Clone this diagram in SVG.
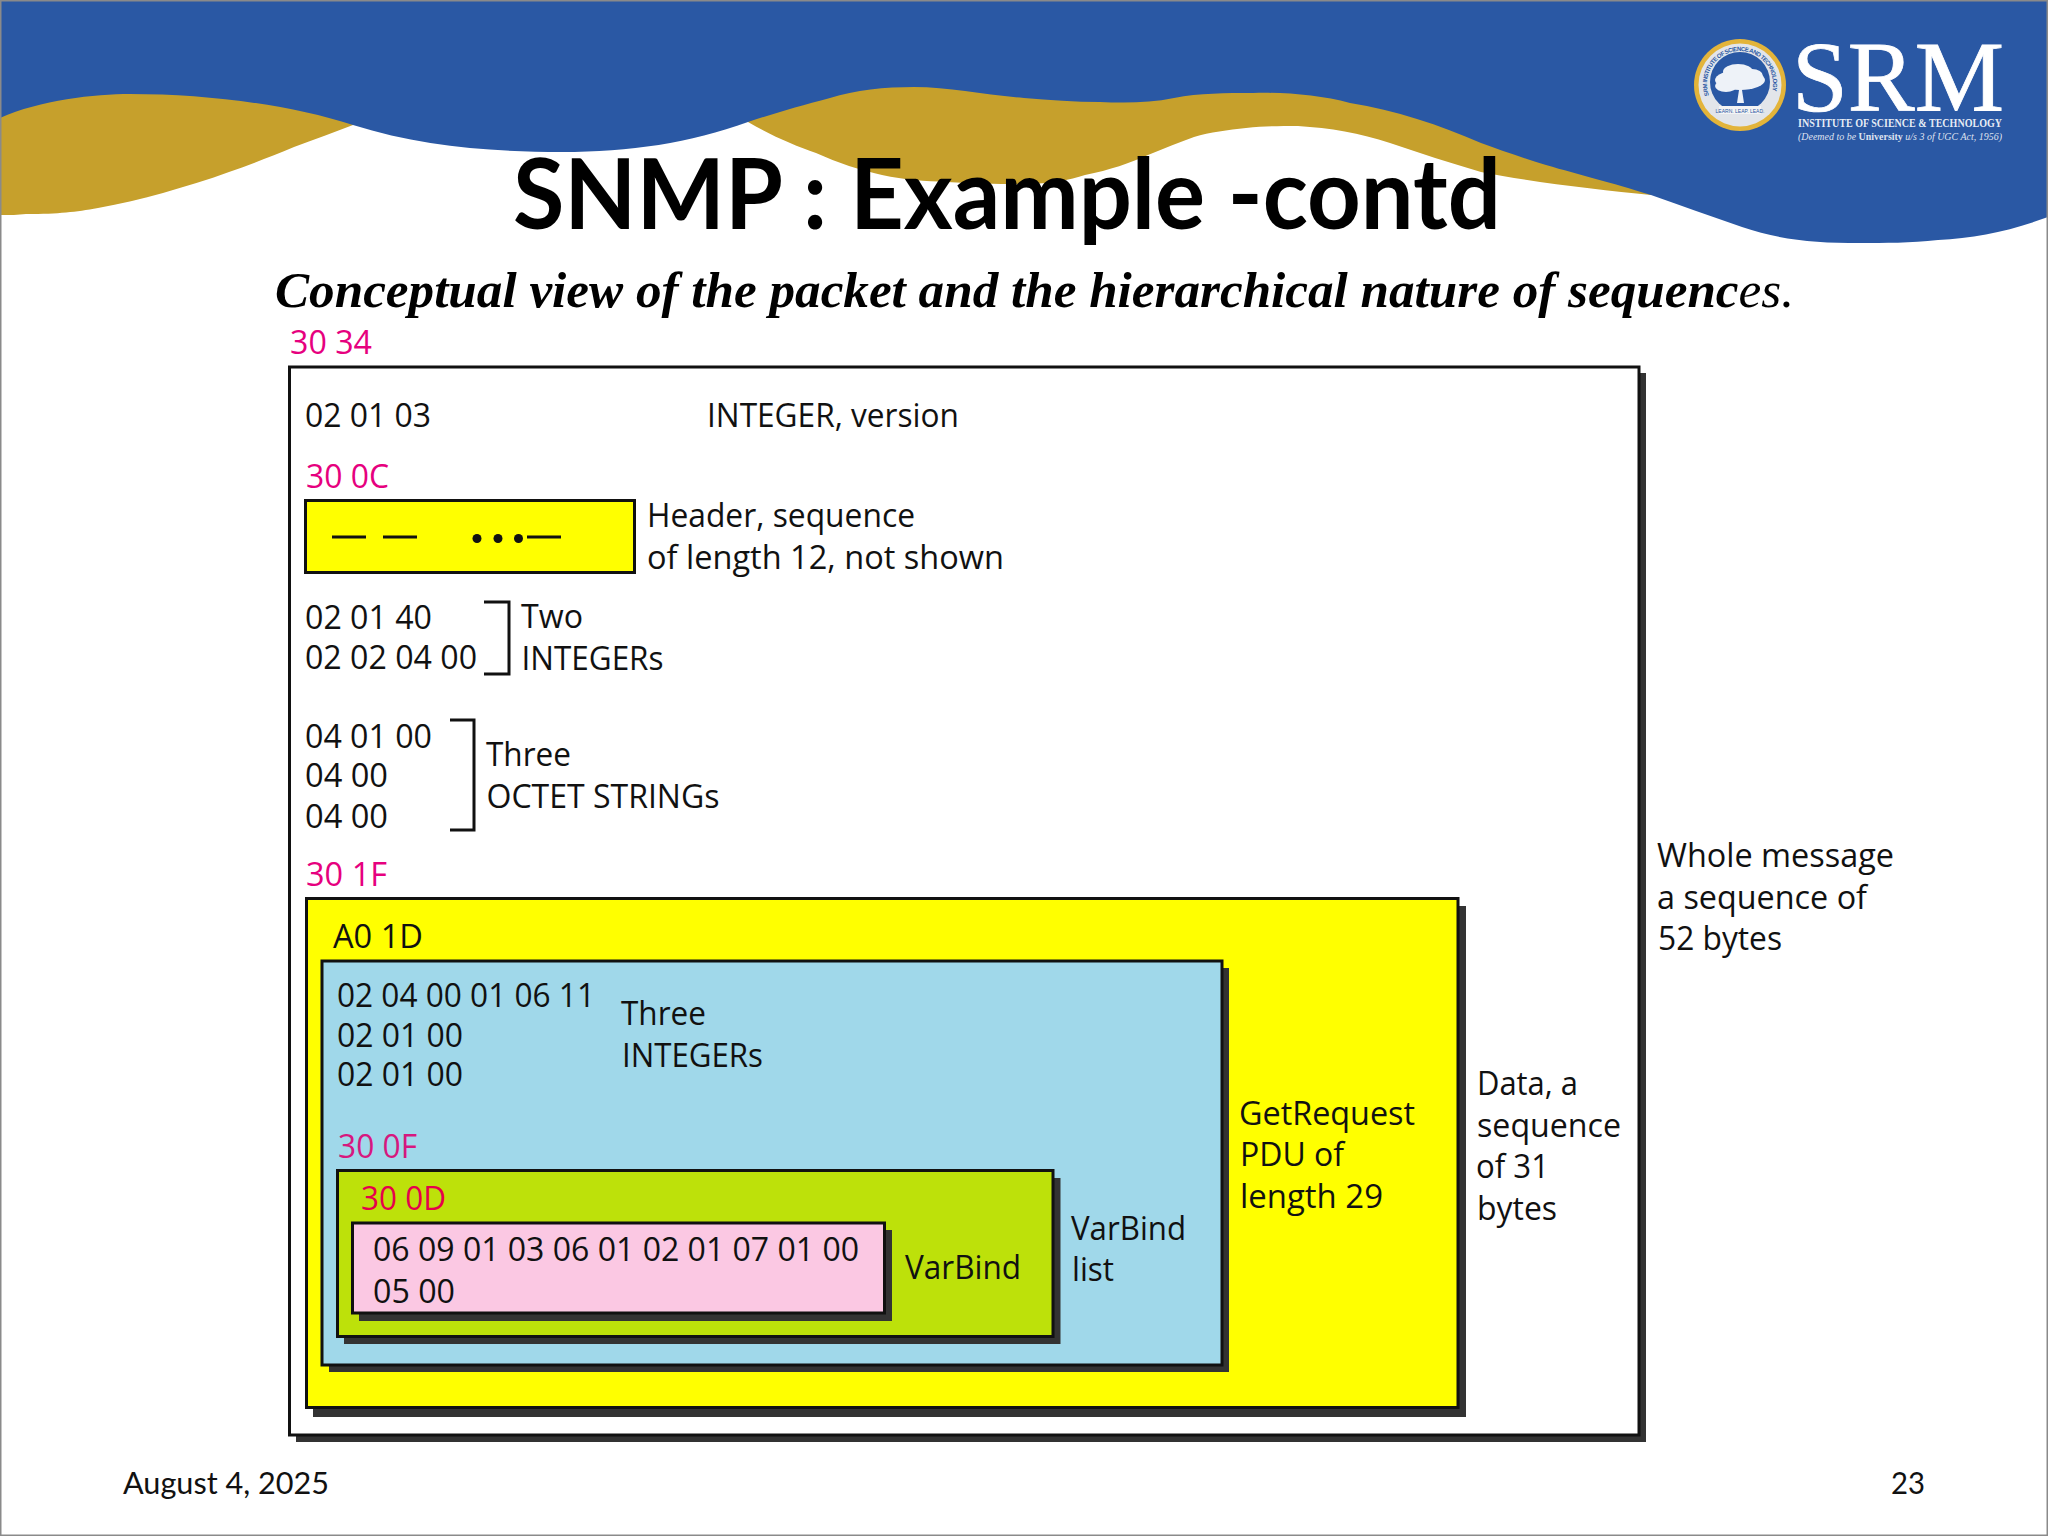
<svg xmlns="http://www.w3.org/2000/svg" width="2048" height="1536" viewBox="0 0 2048 1536">
<style>
.t{font-family:"Open Sans","Noto Sans",sans-serif;font-size:32px;fill:#111}
.m{fill:#e6007e}
.box{stroke:#111;stroke-width:3}
.sh{fill:#333}
.br{fill:none;stroke:#111;stroke-width:3}
.f{font-family:Lato,sans-serif;font-size:30px;fill:#111}
.s{font-family:"Liberation Serif",serif;fill:#fff}
.crown{fill:#eef2f8}
</style>
<rect width="2048" height="1536" fill="#fff"/>
<g id="banner">
<path d="M0 215C10 215 18 215 26 214C60 214 75 212 98 208C120 204 142 199 163 193C185 186 208 180 229 172C252 164 272 156 294 147C315 139 335 132 353 125L353 60L0 60Z" fill="#c6a02c"/>
<path d="M748 122C770 135 795 146 816 153C838 163 860 170 882 175C905 180 925 181 947 182C975 184 1000 184 1024 184C1050 184 1070 180 1085 175C1110 170 1130 163 1148 155C1165 148 1180 142 1194 137C1210 132 1228 130 1246 128C1265 126 1280 126 1298 126C1330 128 1360 133 1390 143C1420 153 1450 163 1481 172C1530 182 1600 190 1651 195L1651 60L748 60Z" fill="#c6a02c"/>
<path d="M0 0H2048V217C2010 231 1975 238 1938 240C1910 243 1885 243 1860 243C1815 243 1780 240 1742 227C1710 216 1680 205 1651 195C1610 182 1580 175 1546 165C1520 157 1500 150 1481 143C1440 125 1395 110 1350 103C1320 95 1285 92 1253 93C1225 93 1200 93 1174 98C1150 103 1125 103 1100 102C1075 102 1050 100 1024 98C985 95 950 87 914 87C885 87 855 90 830 98C800 106 775 113 748 122C690 143 630 152 562 152C490 152 420 146 353 125C290 105 210 94 130 94C95 94 40 100 0 118Z" fill="#2a58a4"/>
</g>
<g id="logo">
<circle cx="1740" cy="85" r="46" fill="#e3b43a"/>
<circle cx="1740" cy="85" r="41.500" fill="#e2e5ea"/>
<circle cx="1740" cy="82" r="30" fill="#2a58a4"/>
<path d="M1737 103L1739 90L1734 84H1746L1742 90L1744 103Z" class="crown"/>
<ellipse class="crown" cx="1740" cy="80" rx="25" ry="10"/>
<ellipse class="crown" cx="1738" cy="72" rx="15" ry="8"/>
<ellipse class="crown" cx="1752" cy="76" rx="11" ry="7"/>
<ellipse class="crown" cx="1726" cy="86" rx="11" ry="6"/>
<path id="ringTop" d="M1709 95.300A33 33 0 1 1 1771 95.300" fill="none"/>
<text font-family="Liberation Sans,sans-serif" font-size="6" font-weight="700" fill="#2a58a4"><textPath href="#ringTop" textLength="122">SRM INSTITUTE OF SCIENCE AND TECHNOLOGY</textPath></text>
<path d="M1719 106H1761V114H1719Z" fill="#f4f4f4"/>
<text x="1740" y="112.500" text-anchor="middle" font-family="Liberation Sans,sans-serif" font-size="5" fill="#2a58a4">LEARN. LEAP. LEAD.</text>
<text class="s" x="1792" y="110" font-size="100" stroke="#fff" stroke-width="0.800" textLength="212" lengthAdjust="spacingAndGlyphs">SRM</text>
<text class="s" transform="translate(1798 127) scale(1 1.160)" font-size="11" font-weight="700" textLength="204" lengthAdjust="spacingAndGlyphs" fill-opacity="0.9">INSTITUTE OF SCIENCE &amp; TECHNOLOGY</text>
<text class="s" x="1798" y="140" font-size="11" font-style="italic" textLength="204" lengthAdjust="spacingAndGlyphs" fill-opacity="0.85">(Deemed to be <tspan font-weight="700" font-style="normal">University</tspan> u/s 3 of UGC Act, 1956)</text>
</g>
<text id="title" x="513" y="229" font-family="Lato,sans-serif" font-weight="700" font-size="97" fill="#000" textLength="988" lengthAdjust="spacingAndGlyphs">SNMP : Example -contd</text>
<text id="subtitle" x="275" y="307" font-family="Liberation Serif,serif" font-style="italic" font-weight="700" font-size="50" fill="#000" textLength="1519" lengthAdjust="spacingAndGlyphs">Conceptual view of the packet and the hierarchical nature of sequenc<tspan font-weight="400">es.</tspan></text>

<g id="whole-message">
<rect class="sh" x="296" y="373" width="1350" height="1069"/>
<rect class="box" x="289.500" y="367" width="1349.500" height="1068" fill="#fff"/>
<text class="t m" x="290" y="354" textLength="82" lengthAdjust="spacingAndGlyphs">30 34</text>
<text class="t" x="1657" y="867" textLength="237" lengthAdjust="spacingAndGlyphs">Whole message</text>
<text class="t" x="1657" y="909" textLength="210" lengthAdjust="spacingAndGlyphs">a sequence of</text>
<text class="t" x="1658" y="950" textLength="124" lengthAdjust="spacingAndGlyphs">52 bytes</text>
</g>
<g id="version">
<text class="t" x="305" y="427" textLength="126" lengthAdjust="spacingAndGlyphs">02 01 03</text>
<text class="t" x="707" y="427" textLength="252" lengthAdjust="spacingAndGlyphs">INTEGER, version</text>
</g>
<g id="header">
<text class="t m" x="306" y="488" textLength="83" lengthAdjust="spacingAndGlyphs">30 0C</text>
<rect class="box" x="305.500" y="500.500" width="329" height="72" fill="#ff0"/>
<path d="M332 537H366M383 537H417M527 537H561" stroke="#111" stroke-width="3"/>
<circle cx="477" cy="538.500" r="4.500" fill="#111"/>
<circle cx="498" cy="538.500" r="4.500" fill="#111"/>
<circle cx="518.500" cy="538.500" r="4.500" fill="#111"/>
<text class="t" x="647" y="527" textLength="268" lengthAdjust="spacingAndGlyphs">Header, sequence</text>
<text class="t" x="647" y="569" textLength="357" lengthAdjust="spacingAndGlyphs">of length 12, not shown</text>
</g>
<g id="two-integers">
<text class="t" x="305" y="629" textLength="127" lengthAdjust="spacingAndGlyphs">02 01 40</text>
<text class="t" x="305" y="669" textLength="172" lengthAdjust="spacingAndGlyphs">02 02 04 00</text>
<path class="br" d="M484 602H509V674H484"/>
<text class="t" x="521" y="628" textLength="62" lengthAdjust="spacingAndGlyphs">Two</text>
<text class="t" x="521.500" y="670" textLength="142" lengthAdjust="spacingAndGlyphs">INTEGERs</text>
</g>
<g id="three-octet-strings">
<text class="t" x="305" y="748" textLength="127" lengthAdjust="spacingAndGlyphs">04 01 00</text>
<text class="t" x="305" y="787" textLength="83" lengthAdjust="spacingAndGlyphs">04 00</text>
<text class="t" x="305" y="828" textLength="83" lengthAdjust="spacingAndGlyphs">04 00</text>
<path class="br" d="M450 720H474V830H450"/>
<text class="t" x="486" y="766" textLength="85" lengthAdjust="spacingAndGlyphs">Three</text>
<text class="t" x="486.500" y="808" textLength="233" lengthAdjust="spacingAndGlyphs">OCTET STRINGs</text>
</g>
<g id="data">
<text class="t m" x="306" y="886" textLength="81" lengthAdjust="spacingAndGlyphs">30 1F</text>
<rect class="sh" x="313" y="906" width="1153" height="511"/>
<rect class="box" x="306.500" y="898.500" width="1151.500" height="509" fill="#ff0"/>
<text class="t" x="1477" y="1095" textLength="101" lengthAdjust="spacingAndGlyphs">Data, a</text>
<text class="t" x="1477" y="1137" textLength="144" lengthAdjust="spacingAndGlyphs">sequence</text>
<text class="t" x="1476" y="1178" textLength="73" lengthAdjust="spacingAndGlyphs">of 31</text>
<text class="t" x="1477" y="1220" textLength="80" lengthAdjust="spacingAndGlyphs">bytes</text>
</g>
<g id="pdu">
<text class="t" x="333" y="948" textLength="90" lengthAdjust="spacingAndGlyphs">A0 1D</text>
<rect class="sh" x="329" y="968" width="900" height="404"/>
<rect class="box" x="322" y="961" width="900" height="404" fill="#a0d8ea"/>
<text class="t" x="1239" y="1125" textLength="176" lengthAdjust="spacingAndGlyphs">GetRequest</text>
<text class="t" x="1240" y="1166" textLength="104" lengthAdjust="spacingAndGlyphs">PDU of</text>
<text class="t" x="1240" y="1208" textLength="143" lengthAdjust="spacingAndGlyphs">length 29</text>
<text class="t" x="337" y="1007" textLength="258" lengthAdjust="spacingAndGlyphs">02 04 00 01 06 11</text>
<text class="t" x="337" y="1047" textLength="126" lengthAdjust="spacingAndGlyphs">02 01 00</text>
<text class="t" x="337" y="1086" textLength="126" lengthAdjust="spacingAndGlyphs">02 01 00</text>
<text class="t" x="621" y="1025" textLength="85" lengthAdjust="spacingAndGlyphs">Three</text>
<text class="t" x="622" y="1067" textLength="141" lengthAdjust="spacingAndGlyphs">INTEGERs</text>
</g>
<g id="varbind-list">
<text class="t" x="338" y="1158" textLength="79" lengthAdjust="spacingAndGlyphs" style="fill:#d6187f">30 0F</text>
<rect class="sh" x="344" y="1178" width="716.500" height="166"/>
<rect class="box" x="337.500" y="1170.500" width="715.500" height="166" fill="#bde10a"/>
<text class="t" x="1071" y="1240" textLength="115" lengthAdjust="spacingAndGlyphs">VarBind</text>
<text class="t" x="1072" y="1281" textLength="42" lengthAdjust="spacingAndGlyphs">list</text>
</g>
<g id="varbind">
<text class="t" x="361" y="1210" textLength="85" lengthAdjust="spacingAndGlyphs" style="fill:#e6004c">30 0D</text>
<rect class="sh" x="359" y="1230" width="533" height="91"/>
<rect class="box" x="352.500" y="1223" width="532" height="90" fill="#fbc8e3"/>
<text class="t" x="373" y="1261" textLength="486" lengthAdjust="spacingAndGlyphs">06 09 01 03 06 01 02 01 07 01 00</text>
<text class="t" x="373" y="1303" textLength="82" lengthAdjust="spacingAndGlyphs">05 00</text>
<text class="t" x="905" y="1279" textLength="116" lengthAdjust="spacingAndGlyphs">VarBind</text>
</g>
<g id="footer">
<text class="f" x="123" y="1494" textLength="206" lengthAdjust="spacingAndGlyphs">August 4, 2025</text>
<text class="f" x="1891" y="1494" textLength="34" lengthAdjust="spacingAndGlyphs">23</text>
</g>
<rect id="slide-border" x="0.500" y="0.500" width="2047" height="1535" fill="none" stroke="#8a8a8a" stroke-width="2"/>
</svg>
